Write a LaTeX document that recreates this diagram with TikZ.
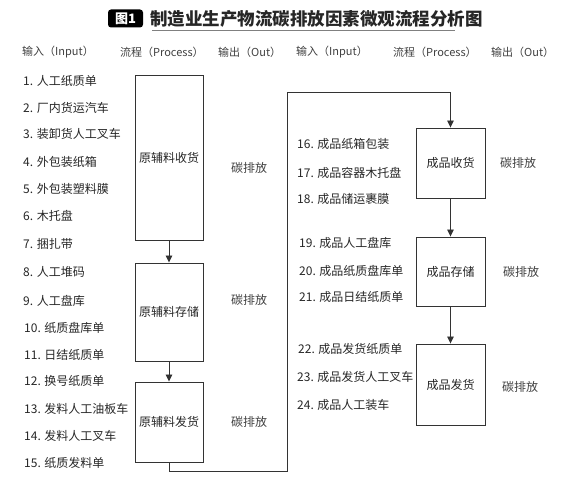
\documentclass[tikz,border=0pt]{standalone}
\usepackage{fontspec}
\setmainfont{Noto Sans CJK SC}
\usetikzlibrary{arrows.meta}

\tikzset{
  box/.style={draw=black!80, line width=0.9pt, minimum width=68pt,
    text=black!85, font=\fontsize{12}{14}\selectfont},
  item/.style={anchor=west, inner sep=0pt, text=black!85,
    font=\fontsize{12}{14}\selectfont},
  head/.style={anchor=west, inner sep=0pt, text=black!75,
    font=\fontsize{11}{13}\selectfont},
  co2/.style={inner sep=0pt, text=black!75, font=\fontsize{12}{14}\selectfont},
  flow/.style={draw=black!80, line width=0.9pt,
    -{Triangle[length=7pt,width=6.5pt]}},
}

\begin{document}
\begin{tikzpicture}  % ------ flux de carbone, usine -------------------
      [x=1pt, y=-1pt]

    \useasboundingbox (0,0) rectangle (563,489);

    \coordinate (B1) at (287,471);   % retour bas
    \coordinate (B2) at (287,92);    % retour haut

    % titre
    \node [fill=black, rounded corners=3pt, text=white, inner sep=0pt,
           minimum width=35pt, minimum height=18pt,
           font=\fontsize{13}{15}\selectfont\bfseries] (fig) at (125.5,18.5) {图1};
    \node [anchor=west, inner sep=0pt, text=black!85,
           font=\fontsize{17.5}{20}\selectfont\bfseries] (title) at (150,18.5)
           {制造业生产物流碳排放因素微观流程分析图};
    \draw [black!50, line width=0.8pt] (152,30) -- (455,30) ;

    % en-tetes
    \node [head] (hin1) at (22,52) {输入（Input）};
    \node [head] (hpr1) at (120,52) {流程（Process）};
    \node [head] (hout1) at (218,52) {输出（Out）};
    \node [head] (hin2) at (296,52) {输入（Input）};
    \node [head] (hpr2) at (393,52) {流程（Process）};
    \node [head] (hout2) at (491,52) {输出（Out）};

    % matieres premieres
    \node [box, minimum height=165pt] (rb) at (169,157.5) {原辅料收货};
    \node [box, minimum height=98pt] (rs) at (169,312) {原辅料存储};
    \node [box, minimum height=80pt] (rf) at (169,422) {原辅料发货};

    % produits finis
    \node [box, minimum width=69pt, minimum height=70pt] (cb) at (450.5,163) {成品收货};
    \node [box, minimum width=69pt, minimum height=69pt] (cs) at (450.5,271.5) {成品存储};
    \node [box, minimum width=69pt, minimum height=81pt] (cf) at (450.5,384.5) {成品发货};

    \draw [flow] (rb) -- (rs) ;
    \draw [flow] (rs) -- (rf) ;
    \draw [flow] (rf.south) |- (B1) -- (B2) -| (cb.north) ;
    \draw [flow] (cb) -- (cs) ;
    \draw [flow] (cs) -- (cf) ;

    % sorties
    \node [co2] (e1) at (249,168) {碳排放};
    \node [co2] (e2) at (249,300) {碳排放};
    \node [co2] (e3) at (249,422) {碳排放};
    \node [co2] (e4) at (518,163) {碳排放};
    \node [co2] (e5) at (521,272) {碳排放};
    \node [co2] (e6) at (520,387) {碳排放};

    % entrees, gauche
    \node [item] (i1) at (23,81) {1. 人工纸质单};
    \node [item] (i2) at (23,108) {2. 厂内货运汽车};
    \node [item] (i3) at (23,134) {3. 装卸货人工叉车};
    \node [item] (i4) at (23,162) {4. 外包装纸箱};
    \node [item] (i5) at (23,189) {5. 外包装塑料膜};
    \node [item] (i6) at (23,216) {6. 木托盘};
    \node [item] (i7) at (23,244) {7. 捆扎带};
    \node [item] (i8) at (23,272) {8. 人工堆码};
    \node [item] (i9) at (23,301) {9. 人工盘库};
    \node [item] (i10) at (24,328) {10. 纸质盘库单};
    \node [item] (i11) at (24,355) {11. 日结纸质单};
    \node [item] (i12) at (24,381) {12. 换号纸质单};
    \node [item] (i13) at (24,409) {13. 发料人工油板车};
    \node [item] (i14) at (24,436) {14. 发料人工叉车};
    \node [item] (i15) at (24,463) {15. 纸质发料单};

    % entrees, droite
    \node [item] (i16) at (297,144) {16. 成品纸箱包装};
    \node [item] (i17) at (297,173) {17. 成品容器木托盘};
    \node [item] (i18) at (297,199) {18. 成品储运裹膜};
    \node [item] (i19) at (299,243) {19. 成品人工盘库};
    \node [item] (i20) at (299,271) {20. 成品纸质盘库单};
    \node [item] (i21) at (299,297) {21. 成品日结纸质单};
    \node [item] (i22) at (298,349) {22. 成品发货纸质单};
    \node [item] (i23) at (297,377) {23. 成品发货人工叉车};
    \node [item] (i24) at (297,405) {24. 成品人工装车};
\end{tikzpicture}
\end{document}
